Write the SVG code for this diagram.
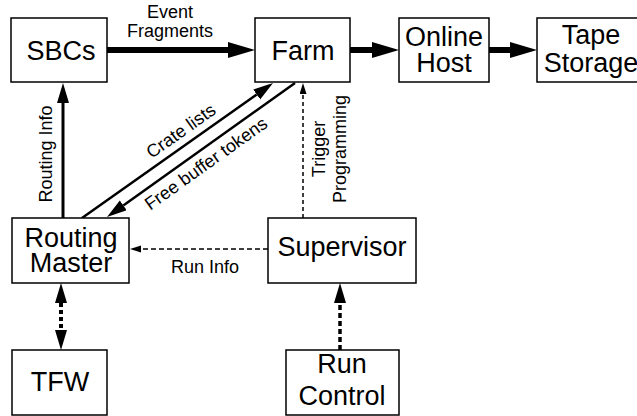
<svg xmlns="http://www.w3.org/2000/svg" width="637" height="416" viewBox="0 0 637 416">
<style>
.box{fill:#fff;stroke:#000;stroke-width:1.5}
.nt{font-family:"Liberation Sans",Arial,sans-serif;font-size:27px;fill:#000;text-anchor:middle}
.lb{font-family:"Liberation Sans",Arial,sans-serif;font-size:18px;fill:#000;text-anchor:middle}
.c{fill:none;stroke:#000}
</style>
<defs>
<marker id="big" markerUnits="userSpaceOnUse" markerWidth="28" markerHeight="17" refX="0" refY="8" orient="auto"><path d="M0,0 L27,8 L0,16 z" fill="#000"/></marker>
<marker id="med" markerUnits="userSpaceOnUse" markerWidth="21" markerHeight="13" refX="0" refY="6" orient="auto-start-reverse"><path d="M0,0 L20,6 L0,12 z" fill="#000"/></marker>
<marker id="sm" markerUnits="userSpaceOnUse" markerWidth="12" markerHeight="8" refX="0" refY="3.5" orient="auto"><path d="M0,0 L11,3.5 L0,7 z" fill="#000"/></marker>
</defs>
<g id="connectors">
<line class="c" x1="107" y1="50" x2="228" y2="50" stroke-width="6" marker-end="url(#big)"/>
<line class="c" x1="350" y1="50" x2="372" y2="50" stroke-width="6" marker-end="url(#big)"/>
<line class="c" x1="489" y1="50" x2="510" y2="50" stroke-width="6" marker-end="url(#big)"/>
<line class="c" x1="63" y1="218" x2="63" y2="103" stroke-width="3" marker-end="url(#med)"/>
<line class="c" x1="82" y1="218" x2="256.7" y2="94.5" stroke-width="2.5" marker-end="url(#med)"/>
<line class="c" x1="295" y1="83" x2="123.3" y2="205.4" stroke-width="2.5" marker-end="url(#med)"/>
<line class="c" x1="303" y1="218" x2="303" y2="94" stroke-width="1.5" stroke-dasharray="4 3" marker-end="url(#sm)"/>
<line class="c" x1="268" y1="249" x2="141" y2="249" stroke-width="1.5" stroke-dasharray="5 3" marker-end="url(#sm)"/>
<line class="c" x1="61" y1="303" x2="61" y2="330" stroke-width="4" stroke-dasharray="4 3" marker-start="url(#med)" marker-end="url(#med)"/>
<line class="c" x1="340" y1="350" x2="340" y2="303" stroke-width="3.5" stroke-dasharray="5 3" marker-end="url(#med)"/>
<text class="lb"><tspan x="170" y="18">Event</tspan><tspan x="170" y="37">Fragments</tspan></text>
<text class="lb" transform="translate(51.5,154) rotate(-90)">Routing Info</text>
<text class="lb" transform="translate(184.4,135.9) rotate(-35.3)">Crate lists</text>
<text class="lb" transform="translate(209.5,168.5) rotate(-35.5)">Free buffer tokens</text>
<text class="lb" transform="translate(324.5,149) rotate(-90)"><tspan x="0" y="0">Trigger</tspan><tspan x="0" y="21">Programming</tspan></text>
<text class="lb" x="205" y="273">Run Info</text>
</g>
<g id="sbcs"><rect class="box" x="11" y="18" width="96" height="64"/><text class="nt" x="61" y="60">SBCs</text></g>
<g id="farm"><rect class="box" x="255" y="18" width="95" height="64"/><text class="nt" x="303" y="60">Farm</text></g>
<g id="online-host"><rect class="box" x="399" y="18" width="90" height="64"/><text class="nt"><tspan x="444" y="46">Online</tspan><tspan x="444" y="72">Host</tspan></text></g>
<g id="tape-storage"><rect class="box" x="537" y="18" width="110" height="64"/><text class="nt"><tspan x="591" y="44">Tape</tspan><tspan x="591" y="72">Storage</tspan></text></g>
<g id="routing-master"><rect class="box" x="12" y="218" width="117" height="65"/><text class="nt"><tspan x="71" y="247">Routing</tspan><tspan x="71" y="272">Master</tspan></text></g>
<g id="supervisor"><rect class="box" x="268" y="218" width="148" height="65"/><text class="nt" x="342" y="256">Supervisor</text></g>
<g id="tfw"><rect class="box" x="12" y="350" width="95" height="65"/><text class="nt" x="60" y="391">TFW</text></g>
<g id="run-control"><rect class="box" x="286" y="350" width="113" height="65"/><text class="nt"><tspan x="342" y="373">Run</tspan><tspan x="342" y="405">Control</tspan></text></g>
</svg>
